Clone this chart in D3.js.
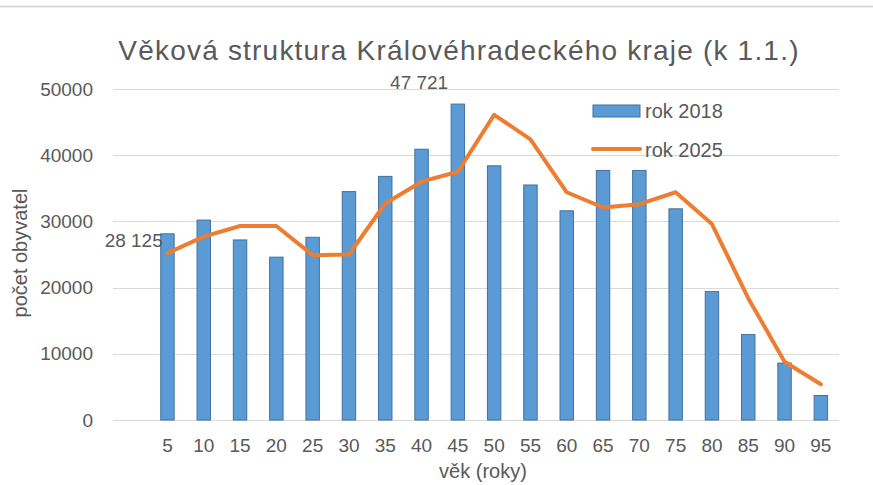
<!DOCTYPE html>
<html>
<head>
<meta charset="utf-8">
<script src="https://cdn.jsdelivr.net/npm/d3@7"></script>
<style>
  body { margin: 0; background: #fff; }
  svg { display: block; font-family: "Liberation Sans", Arial, sans-serif; }
</style>
</head>
<body>
<div id="chart"></div>
<script>
// Data
var ages = [0, 5, 10, 15, 20, 25, 30, 35, 40, 45, 50, 55, 60, 65, 70, 75, 80, 85, 90, 95];
var tickLabels = ["", "5", "10", "15", "20", "25", "30", "35", "40", "45", "50", "55", "60", "65", "70", "75", "80", "85", "90", "95"];
var rok2018 = [null, 28125, 30200, 27200, 24600, 27600, 34500, 36800, 40900, 47721, 38400, 35500, 31600, 37700, 37700, 31900, 19400, 12900, 8600, 3700];
var rok2025 = [null, 25200, 27700, 29300, 29300, 24900, 25000, 32700, 36000, 37500, 46100, 42400, 34400, 32100, 32600, 34400, 29600, 18400, 8800, 5400];
var yTicks = [0, 10000, 20000, 30000, 40000, 50000];
var labelled = [5, 45];

var W = 873, H = 485;
var margin = { top: 89, right: 34, bottom: 65, left: 113 };
var iW = W - margin.left - margin.right;
var iH = H - margin.top - margin.bottom;
var textColor = "#595959";

var svg = d3.select("#chart").append("svg").attr("width", W).attr("height", H);

// chart frame line at the top
svg.append("line")
  .attr("x1", 0).attr("x2", W).attr("y1", 6.5).attr("y2", 6.5)
  .attr("stroke", "#d9d9d9").attr("stroke-width", 2);

svg.append("text")
  .attr("x", 459).attr("y", 60)
  .attr("text-anchor", "middle")
  .attr("font-size", 28)
  .attr("letter-spacing", 1.2)
  .attr("fill", textColor)
  .text("Věková struktura Královéhradeckého kraje (k 1.1.)");

var g = svg.append("g").attr("transform", "translate(" + margin.left + "," + margin.top + ")");

var x = d3.scaleBand().domain(ages).range([0, iW]).paddingInner(0.63).paddingOuter(0.315);
var y = d3.scaleLinear().domain([0, 50000]).range([iH, 0]);

// grid
g.selectAll(".grid")
  .data(yTicks)
  .join("line")
  .attr("class", "grid")
  .attr("x1", 0).attr("x2", iW)
  .attr("y1", function (d) { return Math.round(y(d)) + 0.5; })
  .attr("y2", function (d) { return Math.round(y(d)) + 0.5; })
  .attr("stroke", "#d9d9d9").attr("stroke-width", 1);

// y axis labels
var yAxis = g.append("g")
  .call(d3.axisLeft(y).tickValues(yTicks).tickSize(0).tickPadding(20).tickFormat(d3.format("d")));
yAxis.select(".domain").remove();
yAxis.selectAll("text").attr("font-size", 19).attr("fill", textColor).attr("font-family", null);

// x axis labels
var xAxis = g.append("g")
  .attr("transform", "translate(0," + iH + ")")
  .call(d3.axisBottom(x).tickSize(0).tickPadding(19).tickFormat(function (d, i) { return tickLabels[i]; }));
xAxis.select(".domain").remove();
xAxis.selectAll("text").attr("font-size", 19).attr("fill", textColor).attr("font-family", null);

// bars
var barData = ages.map(function (a, i) { return { age: a, v: rok2018[i] }; })
  .filter(function (d) { return d.v != null; });

g.selectAll(".bar")
  .data(barData)
  .join("rect")
  .attr("class", "bar")
  .attr("x", function (d) { return x(d.age); })
  .attr("width", x.bandwidth())
  .attr("y", function (d) { return y(d.v); })
  .attr("height", function (d) { return iH - y(d.v); })
  .attr("fill", "#5b9bd5")
  .attr("stroke", "#41719c")
  .attr("stroke-width", 1);

// line
var lineData = ages.map(function (a, i) { return { age: a, v: rok2025[i] }; })
  .filter(function (d) { return d.v != null; });

var line = d3.line()
  .x(function (d) { return x(d.age) + x.bandwidth() / 2; })
  .y(function (d) { return y(d.v); });

g.append("path")
  .datum(lineData)
  .attr("d", line)
  .attr("fill", "none")
  .attr("stroke", "#ed7d31")
  .attr("stroke-width", 4)
  .attr("stroke-linejoin", "round")
  .attr("stroke-linecap", "round");

// value labels
var fmt = function (v) { return d3.format(",")(v).replace(",", " "); };
g.selectAll(".val")
  .data(barData.filter(function (d) { return labelled.indexOf(d.age) >= 0; }))
  .join("text")
  .attr("class", "val")
  .attr("x", function (d, i) { return i === 0 ? x(d.age) + 2 : x(d.age) - 32; })
  .attr("y", function (d, i) { return i === 0 ? y(d.v) + 13 : y(d.v) - 15; })
  .attr("text-anchor", function (d, i) { return i === 0 ? "end" : "middle"; })
  .attr("font-size", 19)
  .attr("fill", textColor)
  .text(function (d) { return fmt(d.v); });

// axis titles
svg.append("text")
  .attr("transform", "translate(27,253) rotate(-90)")
  .attr("text-anchor", "middle")
  .attr("font-size", 20)
  .attr("fill", textColor)
  .text("počet obyvatel");

svg.append("text")
  .attr("x", 483).attr("y", 478)
  .attr("text-anchor", "middle")
  .attr("font-size", 20)
  .attr("fill", textColor)
  .text("věk (roky)");

// legend
var legend = svg.append("g");
legend.append("rect")
  .attr("x", 593).attr("y", 105).attr("width", 47).attr("height", 12)
  .attr("fill", "#5b9bd5").attr("stroke", "#41719c").attr("stroke-width", 1);
legend.append("text")
  .attr("x", 645).attr("y", 118)
  .attr("font-size", 20).attr("fill", textColor)
  .text("rok 2018");
legend.append("line")
  .attr("x1", 593).attr("x2", 640).attr("y1", 149).attr("y2", 149)
  .attr("stroke", "#ed7d31").attr("stroke-width", 4).attr("stroke-linecap", "round");
legend.append("text")
  .attr("x", 645).attr("y", 157)
  .attr("font-size", 20).attr("fill", textColor)
  .text("rok 2025");
</script>
</body>
</html>
